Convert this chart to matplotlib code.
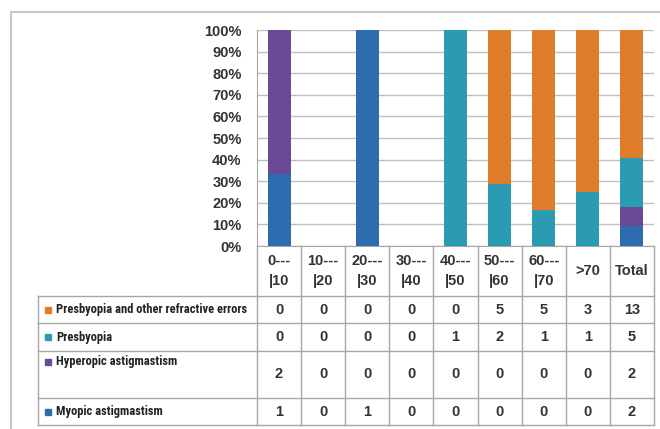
import numpy as np
import matplotlib
matplotlib.use("Agg")
import matplotlib.pyplot as plt
from matplotlib import font_manager
from matplotlib.lines import Line2D
from matplotlib.patches import Rectangle
from matplotlib.ticker import PercentFormatter
from matplotlib.transforms import blended_transform_factory


def pick_font(candidates):
    for name in candidates:
        try:
            font_manager.findfont(font_manager.FontProperties(family=name),
                                  fallback_to_default=False)
            return name
        except ValueError:
            continue
    return None


plt.rcParams['font.family'] = ['Liberation Sans', 'DejaVu Sans']
narrow = pick_font(['Roboto Condensed', 'Liberation Sans Narrow', 'Arial Narrow'])
label_family = [narrow, 'DejaVu Sans'] if narrow else ['Liberation Sans', 'DejaVu Sans']
label_size = 9.0 if narrow else 7.8

categories = ["0---\n|10", "10---\n|20", "20---\n|30", "30---\n|40", "40---\n|50",
              "50---\n|60", "60---\n|70", ">70", "Total"]
series_names = ["Presbyopia and other refractive errors", "Presbyopia",
                "Hyperopic astigmastism", "Myopic astigmastism"]
presb_other = [0, 0, 0, 0, 0, 5, 5, 3, 13]
presbyopia = [0, 0, 0, 0, 1, 2, 1, 1, 5]
hyperopic = [2, 0, 0, 0, 0, 0, 0, 0, 2]
myopic = [1, 0, 1, 0, 0, 0, 0, 0, 2]
colors = ["#E07D2A", "#2B9BB3", "#6A4A96", "#2E6CB0"]

W, H = 660, 429


def fx(x):
    return x / W


def fy(y):
    return 1 - y / H


fig = plt.figure(figsize=(W / 100, H / 100), dpi=100)
ax = fig.add_axes([fx(257), fy(246), fx(654) - fx(257), fy(30) - fy(246)])

# stacked 100% bars, bottom series first
rows = [presb_other, presbyopia, hyperopic, myopic]
counts = np.array(rows[::-1], dtype=float)
totals = counts.sum(axis=0)
pct = np.divide(counts, totals, out=np.zeros_like(counts), where=totals > 0)
x = np.arange(len(categories))
bottom = np.zeros(len(categories))
for vals, col in zip(pct, colors[::-1]):
    ax.bar(x, vals, width=0.52, bottom=bottom, color=col, linewidth=0, zorder=3)
    bottom += vals

ax.set_xlim(-0.5, len(categories) - 0.5)
ax.set_ylim(0, 1)
ax.set_yticks(np.arange(0, 1.01, 0.1))
ax.yaxis.set_major_formatter(PercentFormatter(1.0, decimals=0))
ax.set_xticks([])
ax.yaxis.grid(True, color="#BFBFBF", linewidth=1, zorder=0)
ax.tick_params(axis='y', length=0, pad=11)
for lab in ax.get_yticklabels():
    lab.set_fontweight('bold')
    lab.set_fontsize(10.5)
    lab.set_color("#333333")
for s in ["top", "right"]:
    ax.spines[s].set_visible(False)
for s in ["left", "bottom"]:
    ax.spines[s].set_color("#A6A6A6")

# data table under the bars
grid_col = "#A6A6A6"
trans = blended_transform_factory(ax.transData, fig.transFigure)
x_right = ax.get_position().x1
row_edges = [296, 323, 351, 398, 425]

for b in np.arange(-0.5, len(categories)):
    fig.add_artist(Line2D([b, b], [fy(246), fy(425)], transform=trans,
                          color=grid_col, linewidth=1))
for y in row_edges:
    fig.add_artist(Line2D([fx(38), x_right], [fy(y), fy(y)], color=grid_col, linewidth=1))
fig.add_artist(Line2D([fx(38), fx(38)], [fy(296), fy(425)], color=grid_col, linewidth=1))

for i, cat in enumerate(categories):
    fig.text(i, fy(271), cat, transform=trans, ha='center', va='center',
             fontsize=10.5, fontweight='bold', color="#333333", linespacing=1.5)

label_y = [309.5, 337, 362, 411.5]
value_y = [309.5, 337, 374.5, 411.5]
for name, vals, col, ly, vy in zip(series_names, rows, colors, label_y, value_y):
    fig.add_artist(Rectangle((fx(45), fy(ly + 3)), fx(6), fy(0) - fy(6),
                             transform=fig.transFigure, color=col))
    fig.text(fx(56), fy(ly), name, ha='left', va='center', fontsize=label_size,
             fontweight='bold', color="#222222", family=label_family)
    for i, v in enumerate(vals):
        fig.text(i, fy(vy), str(v), transform=trans, ha='center', va='center',
                 fontsize=10.5, fontweight='bold', color="#333333")

# outer frame
frame_col = "#C8C8C8"
fig.add_artist(Line2D([fx(11), 1], [fy(12), fy(12)], color=frame_col, linewidth=1.5))
fig.add_artist(Line2D([fx(11), fx(11)], [fy(12), 0], color=frame_col, linewidth=1.5))

fig.savefig("out.png", dpi=100)
